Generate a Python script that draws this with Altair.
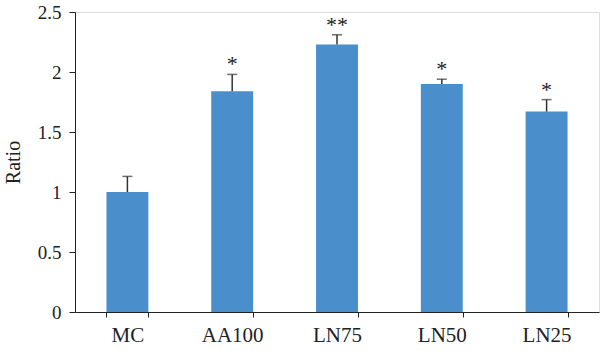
import altair as alt
import pandas as pd

categories = ["MC", "AA100", "LN75", "LN50", "LN25"]
values = [1.0, 1.84, 2.23, 1.90, 1.67]
errors = [0.13, 0.14, 0.08, 0.04, 0.10]
marks = ["", "*", "**", "*", "*"]

df = pd.DataFrame({
    "cat": categories,
    "val": values,
    "err": errors,
    "sig": marks,
})
df["top"] = df["val"] + df["err"]

FONT = "Liberation Serif"

x = alt.X("cat:N", sort=categories, title=None,
          scale=alt.Scale(paddingInner=0.6, paddingOuter=0.3),
          axis=alt.Axis(labelAngle=0, labelFont=FONT, labelFontSize=21,
                        labelColor="#222", domainColor="#222", tickColor="#222",
                        tickSize=5, labelPadding=7, tickBand="extent"))
y = alt.Y("val:Q", title="Ratio",
          scale=alt.Scale(domain=[0, 2.5], nice=False),
          axis=alt.Axis(values=[0, 0.5, 1, 1.5, 2, 2.5], labelFont=FONT,
                        labelFontSize=19, labelColor="#222", titleFont=FONT,
                        titleFontSize=20, titleFontWeight="normal", titleColor="#222",
                        domainColor="#222", tickColor="#222", tickSize=6,
                        labelPadding=8, titlePadding=14, grid=False,
                        labelExpr="datum.value == 0 ? '0' : format(datum.value, '')"))

base = alt.Chart(df)

bars = base.mark_bar(color="#4A8FCB").encode(x=x, y=y)
rule = base.mark_rule(color="#333", strokeWidth=1.5).encode(
    x=alt.X("cat:N", sort=categories), y="val:Q", y2="top:Q")
cap = base.mark_tick(color="#333", thickness=1.5, size=10).encode(
    x=alt.X("cat:N", sort=categories), y="top:Q")
txt = base.mark_text(font=FONT, fontSize=22, color="#222", baseline="middle",
                     dy=-10).encode(
    x=alt.X("cat:N", sort=categories), y="top:Q", text="sig:N")

chart = alt.layer(bars, rule, cap, txt).properties(
    width=524, height=300,
    autosize=alt.AutoSizeParams(type="none"),
    padding={"left": 75, "top": 12, "right": 1, "bottom": 39},
).configure_view(stroke=None).configure(background="white")

chart.save("out.html", embed_options={"renderer": "svg", "actions": False})
